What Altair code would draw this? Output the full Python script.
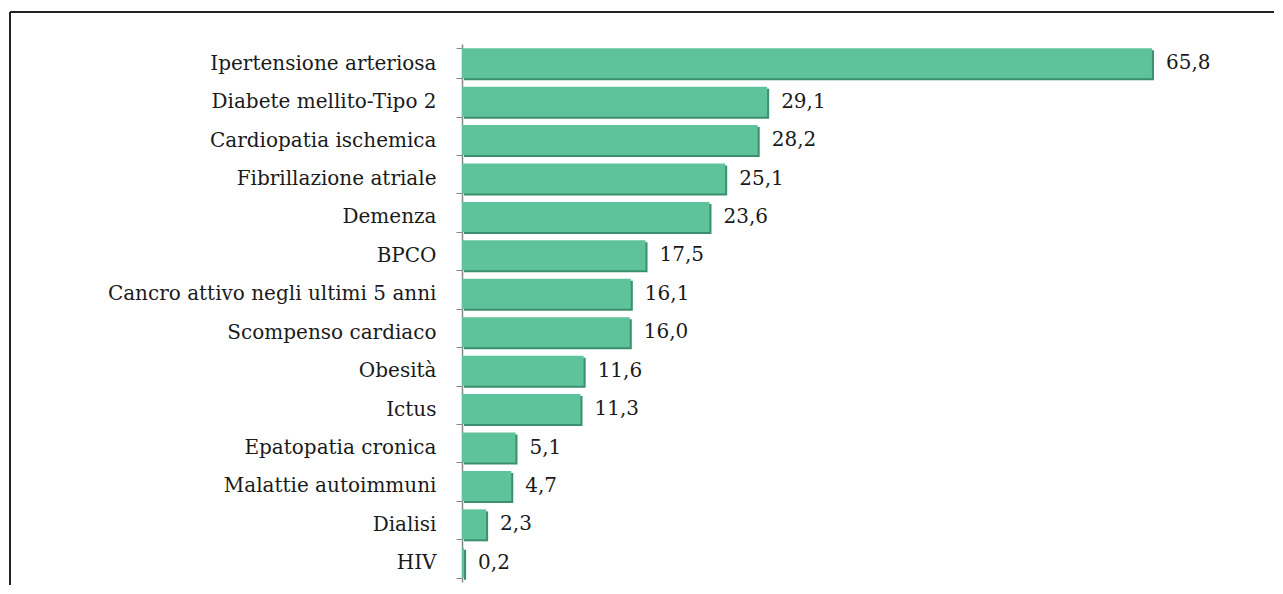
import altair as alt
import pandas as pd

categories = [
    "Ipertensione arteriosa", "Diabete mellito-Tipo 2", "Cardiopatia ischemica",
    "Fibrillazione atriale", "Demenza", "BPCO", "Cancro attivo negli ultimi 5 anni",
    "Scompenso cardiaco", "Obesità", "Ictus", "Epatopatia cronica",
    "Malattie autoimmuni", "Dialisi", "HIV",
]
values = [65.8, 29.1, 28.2, 25.1, 23.6, 17.5, 16.1, 16.0, 11.6, 11.3, 5.1, 4.7, 2.3, 0.2]

df = pd.DataFrame({"cat": categories, "val": values})
df["label"] = [f"{v:.1f}".replace(".", ",") for v in values]

FONT = "DejaVu Serif"
FS = 20

y_enc = alt.Y("cat:N", sort=categories, title=None,
              scale=alt.Scale(paddingInner=0.22, paddingOuter=0.11),
              axis=alt.Axis(labelFont=FONT, labelFontSize=FS, labelColor="#1a1a1a",
                            labelPadding=20, tickBand="extent", tickSize=6,
                            tickColor="#888888", domainColor="#888888",
                            domainWidth=1.5, labelLimit=450))
x_enc = alt.X("val:Q", title=None, scale=alt.Scale(domain=[0, 70], nice=False),
              axis=None)

base = alt.Chart(df)

shadow = base.mark_bar(color="#3a8f6e", xOffset=2, yOffset=2).encode(x=x_enc, y=y_enc)
bars = base.mark_bar(color="#5ec29a").encode(x=x_enc, y=y_enc)
text = base.mark_text(align="left", baseline="middle", dx=14, font=FONT,
                      fontSize=FS, color="#1a1a1a").encode(x=x_enc, y=y_enc, text="label:N")

frame_top = alt.Chart(df).mark_rule(color="#222222", strokeWidth=2).encode(
    x=alt.value(-452), x2=alt.value(900), y=alt.value(-32))
frame_left = alt.Chart(df).mark_rule(color="#222222", strokeWidth=2).encode(
    x=alt.value(-452), y=alt.value(-32), y2=alt.value(620))

chart = alt.layer(frame_top, frame_left, shadow, bars, text).properties(
    width=734, height=538,
    autosize=alt.AutoSizeParams(type="none"),
    padding={"left": 454, "top": 36, "right": 78, "bottom": 3},
).configure_view(stroke=None)

chart.save("out.html", embed_options={"renderer": "svg", "actions": False})
